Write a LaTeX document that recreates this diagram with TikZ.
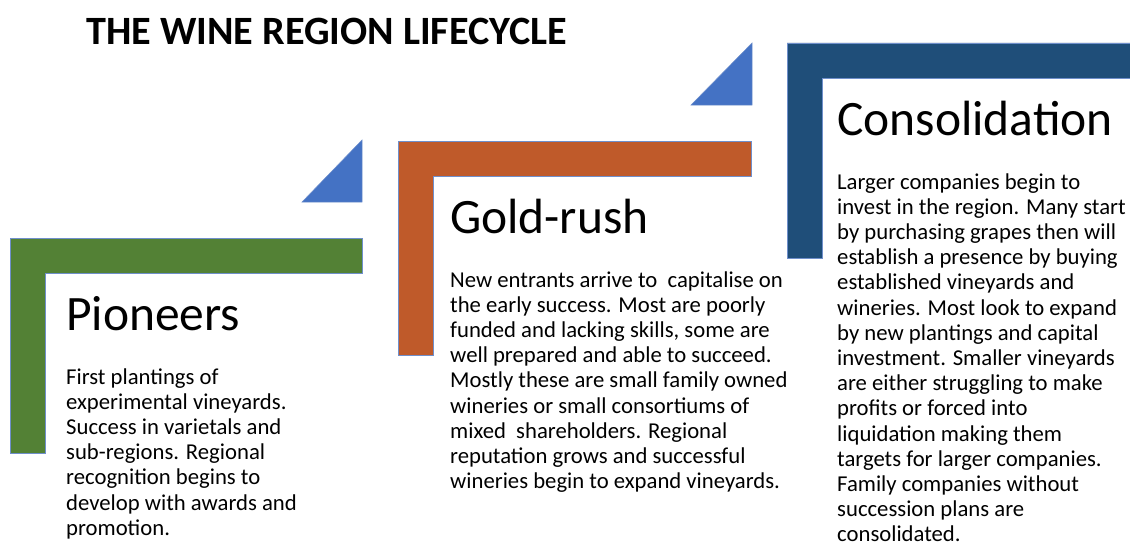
\documentclass[tikz,border=0pt]{standalone}
\usepackage{fontspec}
\setmainfont{Carlito}
\usepackage{xcolor}
\usetikzlibrary{positioning, calc}

\definecolor{pioneergreen}{HTML}{538135}
\definecolor{rushorange}{HTML}{BF5A2A}
\definecolor{consolblue}{HTML}{1F4E79}
\definecolor{stepblue}{HTML}{4472C4}
\definecolor{edgeblue}{HTML}{6F8FCB}

\begin{document}
\begin{tikzpicture}[
    x=1pt, y=-1pt,
    bracket/.style={draw=edgeblue, line width=0.5pt},
    corner/.style={fill=stepblue, draw=edgeblue, line width=0.5pt},
    stagehead/.style={anchor=base west, inner sep=0pt, font=\fontsize{49.5}{58}\selectfont},
    stagetext/.style={inner sep=0pt, align=left, font=\fontsize{22.7}{25.2}\selectfont},
    titletext/.style={anchor=base west, inner sep=0pt, font=\bfseries\fontsize{40.2}{48}\selectfont}
]
\useasboundingbox (0,0) rectangle (1130,543);

% titel
\node[titletext] (title) at (86,45) {THE WINE REGION LIFECYCLE};

% winkel
\fill[pioneergreen, bracket] (10,238) -- (362,238) -- (362,273) -- (45,273) -- (45,453) -- (10,453) -- cycle;
\fill[rushorange, bracket] (398,141) -- (751,141) -- (751,176) -- (433,176) -- (433,355) -- (398,355) -- cycle;
\fill[consolblue, bracket] (787,43) -- (1131,43) -- (1131,78) -- (822,78) -- (822,258) -- (787,258) -- cycle;

% dreiecke
\path[corner] (362,140) -- (362,202) -- (302,202) -- cycle;
\path[corner] (752,43) -- (752,105) -- (691,105) -- cycle;

% erste stufe (anker = letzte zeile)
\node[stagehead] (pioneers) at (66,330) {Pioneers};
\node[stagetext, below=205.2pt of pioneers.base west, anchor=base west] (pioneerstext) {First plantings of\\experimental vineyards.\\Success in varietals and\\sub-regions. Regional\\recognition begins to\\develop with awards and\\promotion.};

% zweite stufe
\node[stagehead] (goldrush) at (450,233) {Gold-rush};
\node[stagetext, below=255.6pt of goldrush.base west, anchor=base west] (goldrushtext) {New entrants arrive to\ \ capitalise on\\the early success. Most are poorly\\funded and lacking skills, some are\\well prepared and able to succeed.\\Mostly these are small family owned\\wineries or small consortiums of\\mixed\ \ shareholders. Regional\\reputation grows and successful\\wineries begin to expand vineyards.};

% dritte stufe
\node[stagehead] (consolidation) at (837,135) {Consolidation};
\node[stagetext, below=406.8pt of consolidation.base west, anchor=base west] (consolidationtext) {Larger companies begin to\\invest in the region. Many start\\by purchasing grapes then will\\establish a presence by buying\\established vineyards and\\wineries. Most look to expand\\by new plantings and capital\\investment. Smaller vineyards\\are either struggling to make\\profits or forced into\\liquidation making them\\targets for larger companies.\\Family companies without\\succession plans are\\consolidated.};

\end{tikzpicture}
\end{document}
